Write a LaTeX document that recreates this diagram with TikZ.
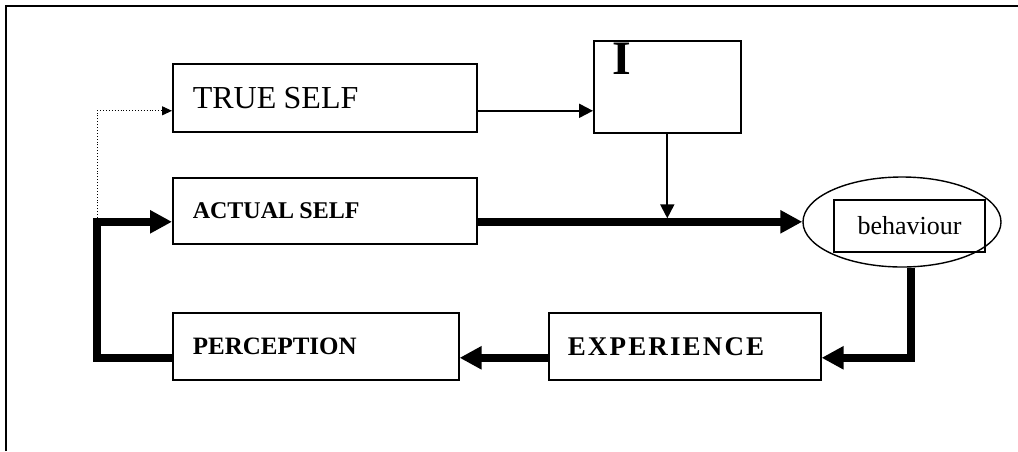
\documentclass[tikz,border=0pt]{standalone}
\usepackage{fontspec}
\setmainfont{Liberation Serif}
\usetikzlibrary{arrows.meta,shapes.geometric,calc}

\tikzset{
  box/.style={draw, line width=1.6pt, anchor=north west, inner xsep=20pt,
              align=left, inner ysep=0pt},
  thinarrow/.style={line width=2pt, -{Triangle[length=14pt,width=14pt]}},
  thickarrow/.style={line width=7.5pt, -{Triangle[length=22pt,width=22pt]}},
  dotarrow/.style={line width=0.9pt, dotted, -{Triangle[length=10pt,width=9pt]}},
}

\begin{document}
\begin{tikzpicture}[x=1pt, y=-1pt]
  \useasboundingbox (0,0) rectangle (1018,451);

  % open frame: top and left edges
  \draw[line width=2pt] (6,451) -- (6,6) -- (1018,6);

  % boxes
  \node[box, minimum width=304pt, minimum height=68pt, text width=264pt]
    (trueself) at (172,63) {\fontsize{32}{38}\selectfont TRUE\hspace{4pt} SELF};
  \node[box, minimum width=147pt, minimum height=92pt, inner xsep=0pt]
    (ibox) at (593,40) {};
  \node[anchor=base west, inner sep=0pt] (ilabel) at (612,74)
    {\fontsize{48}{52}\selectfont\bfseries I};
  \node[box, minimum width=304pt, minimum height=66pt, text width=264pt]
    (actual) at (172,177) {\fontsize{24}{28}\selectfont\bfseries ACTUAL\hspace{2pt} SELF};
  \node[box, minimum width=286pt, minimum height=67pt, text width=246pt]
    (percep) at (172,312) {\fontsize{25}{29}\selectfont\bfseries PERCEPTION};
  \node[box, minimum width=272pt, minimum height=67pt, text width=234pt, inner xsep=19pt]
    (exper) at (548,312)
    {\fontsize{27}{31}\selectfont\bfseries\addfontfeatures{LetterSpace=8}EXPERIENCE};

  % behaviour: ellipse with a framed label
  \node[draw, ellipse, line width=1.4pt, minimum width=198pt, minimum height=90pt,
        inner sep=0pt] (behav) at (902,222) {};
  \node[draw, line width=1.4pt, minimum width=151pt, minimum height=52pt,
        inner sep=0pt] (behavbox) at (909.5,226)
    {\fontsize{26}{28}\selectfont behaviour};

  % attachment points
  \coordinate (tsin)  at ([yshift=-13pt]trueself.west);
  \coordinate (tsout) at ([yshift=-13pt]trueself.east);
  \coordinate (ain)   at ([yshift=-11pt]actual.west);
  \coordinate (aout)  at ([yshift=-11pt]actual.east);
  \coordinate (ein)   at ([yshift=-11.5pt]exper.east);
  \coordinate (eout)  at ([yshift=-11.5pt]exper.west);
  \coordinate (pin)   at ([yshift=-11.5pt]percep.east);
  \coordinate (pout)  at ([yshift=-11.5pt]percep.west);
  \coordinate (bdown) at ([xshift=9pt]behav.south);
  \coordinate (loop)  at (97,0 |- ain);

  % thin connectors
  \draw[thinarrow] (tsout) -- (tsout -| ibox.west);
  \draw[thinarrow, shorten >=3.5pt] (ibox.south) -- (ibox.south |- aout);
  \draw[dotarrow] ([yshift=4pt]loop) |- (tsin);

  % thick loop
  \draw[thickarrow] (aout) -- (aout -| behav.west);
  \draw[thickarrow] (bdown) |- (ein);
  \draw[thickarrow] (eout) -- (pin);
  \draw[thickarrow] (pout) -| (loop) -- (ain);
\end{tikzpicture}
\end{document}
